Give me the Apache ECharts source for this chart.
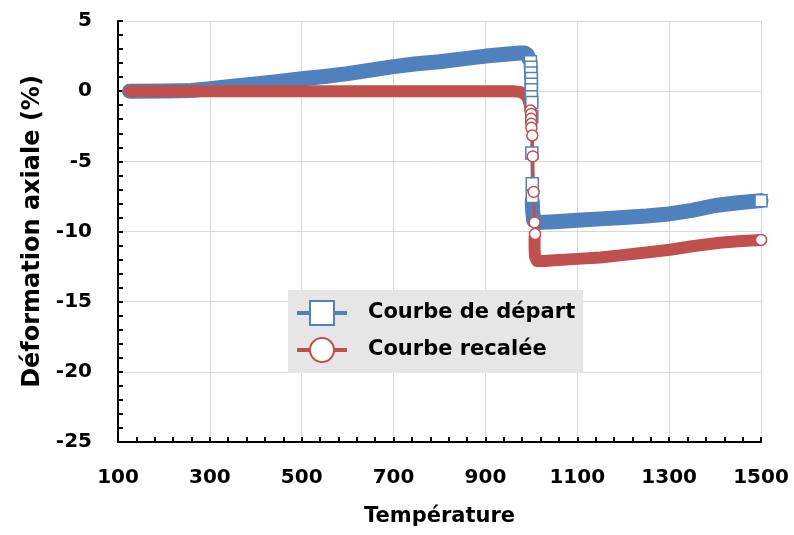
<!DOCTYPE html>
<html>
<head>
<meta charset="utf-8">
<script src="https://cdn.jsdelivr.net/npm/echarts@6/dist/echarts.min.js"></script>
<style>
  html, body { margin: 0; padding: 0; background: #fff; }
  #chart { width: 794px; height: 535px; }
</style>
</head>
<body>
<div id="chart"></div>
<script>
// axes
var xTicks = [100, 300, 500, 700, 900, 1100, 1300, 1500];
var yTicks = [-25, -20, -15, -10, -5, 0, 5];

// Courbe de départ : palier avant la chute
var departAvantT = [125, 200, 260, 300, 350, 400, 450, 500, 550, 600, 650, 700, 750, 800, 850, 900, 950, 975, 985, 991, 995];
var departAvantD = [0, 0.02, 0.05, 0.18, 0.35, 0.52, 0.7, 0.88, 1.05, 1.25, 1.5, 1.75, 1.95, 2.1, 2.3, 2.5, 2.65, 2.72, 2.72, 2.6, 2.3];
// points visibles pendant la chute
var departChuteT = [998, 999, 999, 1000, 1000, 1000, 1000, 1001, 1001, 1001, 1002, 1002];
var departChuteD = [2.1, 1.7, 1.3, 0.9, 0.5, 0.1, -0.4, -0.8, -1.8, -4.4, -6.6, -7.5];
// palier apres la chute
var departApresT = [1002, 1003, 1005, 1020, 1050, 1100, 1150, 1200, 1250, 1300, 1350, 1400, 1450, 1500];
var departApresD = [-7.8, -8.6, -9.2, -9.35, -9.3, -9.2, -9.1, -9.0, -8.9, -8.75, -8.5, -8.15, -7.95, -7.8];

// Courbe recalée
var recaleeAvantT = [125, 300, 500, 700, 900, 960, 975, 985, 992, 996, 998];
var recaleeAvantD = [0, 0, 0, 0, 0, 0, -0.05, -0.2, -0.5, -0.9, -1.3];
var recaleeChuteT = [998, 999.6, 999.6, 1000, 1000, 1002, 1003, 1005, 1007, 1008];
var recaleeChuteD = [-1.38, -1.62, -1.97, -2.33, -2.61, -3.16, -4.65, -7.18, -9.35, -10.18];
var recaleeApresT = [1007, 1007, 1008, 1012, 1030, 1050, 1100, 1150, 1193, 1250, 1302, 1350, 1410, 1450, 1500];
var recaleeApresD = [-10.4, -11.2, -11.8, -12.1, -12.1, -12.05, -11.95, -11.85, -11.7, -11.5, -11.3, -11.05, -10.8, -10.7, -10.6];

var bleu = '#4F81BD';
var rouge = '#C0504D';
var police = 'DejaVu Sans';

function paires(xs, ys) {
  return xs.map(function (x, i) { return [x, ys[i]]; });
}
// points de la chute + point final, separes par un trou
function marqueurs(xs, ys, finT, finD) {
  var d = paires(xs, ys);
  d.push([(xs[xs.length - 1] + finT[finT.length - 1]) / 2, '-']);
  d.push([finT[finT.length - 1], finD[finD.length - 1]]);
  return d;
}
function bande(data, couleur, largeur) {
  return {
    type: 'line', data: data, showSymbol: false, silent: true,
    lineStyle: { color: couleur, width: largeur, cap: 'round', join: 'round' },
    itemStyle: { color: couleur }
  };
}
var texte = { fontFamily: police, fontWeight: 'bold', color: '#000' };

var chart = echarts.init(document.getElementById('chart'));
chart.setOption({
  animation: false,
  grid: { left: 118, right: 33, top: 21, bottom: 93, containLabel: false, outerBoundsMode: 'none' },
  legend: {
    data: ['Courbe de départ', 'Courbe recalée'],
    orient: 'vertical', left: 288, top: 290,
    backgroundColor: '#e6e6e6',
    padding: [10, 8, 10, 7],
    itemWidth: 50, itemHeight: 30, itemGap: 11,
    lineStyle: { width: 4 },
    textStyle: Object.assign({ fontSize: 21, padding: [0, 0, 0, 16] }, texte)
  },
  xAxis: {
    type: 'value', min: xTicks[0], max: xTicks[xTicks.length - 1], interval: 200,
    name: 'Température', nameLocation: 'middle', nameGap: 64,
    nameTextStyle: Object.assign({ fontSize: 21 }, texte),
    axisLine: { onZero: false, lineStyle: { color: '#000', width: 2 } },
    axisTick: { inside: true, length: 5, lineStyle: { color: '#000', width: 2 } },
    minorTick: { show: true, splitNumber: 5, length: 5, lineStyle: { color: '#000', width: 2 } },
    axisLabel: Object.assign({ margin: 26, fontSize: 20, formatter: function (v) { return String(v); } }, texte),
    splitLine: { show: true, lineStyle: { color: '#d9d9d9', width: 1 } }
  },
  yAxis: {
    type: 'value', min: yTicks[0], max: yTicks[yTicks.length - 1], interval: 5,
    name: 'Déformation axiale (%)', nameLocation: 'middle', nameGap: 68,
    nameTextStyle: Object.assign({ fontSize: 24 }, texte),
    axisLine: { show: true, onZero: false, lineStyle: { color: '#000', width: 2 } },
    axisTick: { show: true, inside: true, length: 5, lineStyle: { color: '#000', width: 2 } },
    minorTick: { show: true, splitNumber: 5, length: 5, lineStyle: { color: '#000', width: 2 } },
    axisLabel: Object.assign({ margin: 26, fontSize: 20, formatter: function (v) { return String(v); } }, texte),
    splitLine: { show: true, lineStyle: { color: '#d9d9d9', width: 1 } }
  },
  series: [
    bande(paires(departAvantT, departAvantD), bleu, 15),
    bande(paires(departApresT, departApresD), bleu, 15),
    {
      name: 'Courbe de départ', type: 'line',
      data: marqueurs(departChuteT, departChuteD, departApresT, departApresD),
      symbol: 'rect', symbolSize: 12, showAllSymbol: true, connectNulls: false,
      itemStyle: { color: '#fff', borderColor: bleu, borderWidth: 1.5 },
      lineStyle: { color: bleu, width: 3 }
    },
    bande(paires(recaleeAvantT, recaleeAvantD), rouge, 12),
    bande(paires(recaleeApresT, recaleeApresD), rouge, 12),
    {
      name: 'Courbe recalée', type: 'line',
      data: marqueurs(recaleeChuteT, recaleeChuteD, recaleeApresT, recaleeApresD),
      symbol: 'circle', symbolSize: 11, showAllSymbol: true, connectNulls: false,
      itemStyle: { color: '#fff', borderColor: rouge, borderWidth: 1.5 },
      lineStyle: { color: rouge, width: 3 }
    }
  ]
});
</script>
</body>
</html>
